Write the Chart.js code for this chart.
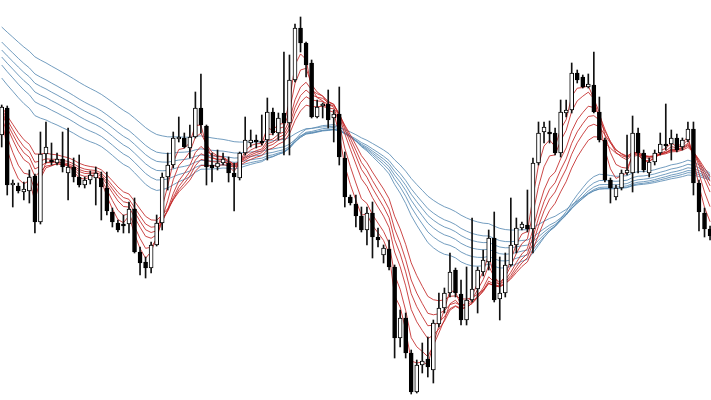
<!DOCTYPE html>
<html>
<head>
<meta charset="utf-8">
<script src="https://cdn.jsdelivr.net/npm/chart.js@4.4.1/dist/chart.umd.min.js"></script>
<style>
  html, body { margin: 0; padding: 0; background: #fff; }
  #chart { display: block; }
</style>
</head>
<body>
<canvas id="chart" width="711" height="400"></canvas>
<script>
// candles
var opens = [1.3065,1.3092,1.3015,1.3014,1.3008,1.3009,1.3024,1.2978,1.3046,1.3040,
  1.3037,1.3041,1.3027,1.3033,1.3023,1.3015,1.3020,1.3022,1.3022,1.3012,
  1.2988,1.2977,1.2976,1.2976,1.2991,1.2948,1.2938,1.2932,1.2955,1.2977,
  1.3023,1.3035,1.3061,1.3062,1.3052,1.3063,1.3092,1.3074,1.3035,1.3033,
  1.3037,1.3037,1.3027,1.3022,1.3047,1.3057,1.3060,1.3059,1.3060,1.3088,
  1.3067,1.3087,1.3077,1.3120,1.3172,1.3157,1.3137,1.3083,1.3094,1.3096,
  1.3082,1.3086,1.3042,1.3003,1.2996,1.2984,1.2970,1.2987,1.2963,1.2945,
  1.2951,1.2933,1.2862,1.2882,1.2847,1.2808,1.2835,1.2841,1.2830,1.2876,
  1.2892,1.2907,1.2930,1.2906,1.2880,1.2900,1.2911,1.2928,1.2938,1.2962,
  1.2901,1.2907,1.2935,1.2955,1.2972,1.2975,1.2971,1.3037,1.3068,1.3068,
  1.3067,1.3047,1.3087,1.3090,1.3127,1.3123,1.3113,1.3115,1.3088,1.3060,
  1.3020,1.3003,1.3012,1.3027,1.3027,1.3067,1.3047,1.3027,1.3038,1.3047,
  1.3056,1.3056,1.3062,1.3053,1.3060,1.3071,1.3017,1.2987,1.2971];
var highs = [1.3095,1.3094,1.3020,1.3017,1.3018,1.3030,1.3026,1.3068,1.3078,1.3057,
  1.3047,1.3068,1.3072,1.3042,1.3045,1.3023,1.3029,1.3033,1.3028,1.3028,
  1.2992,1.2980,1.2985,1.2998,1.3002,1.2953,1.2943,1.2958,1.2985,1.3027,
  1.3047,1.3068,1.3083,1.3067,1.3075,1.3108,1.3126,1.3075,1.3047,1.3050,
  1.3047,1.3043,1.3037,1.3048,1.3083,1.3070,1.3065,1.3085,1.3102,1.3092,
  1.3087,1.3148,1.3145,1.3176,1.3183,1.3158,1.3140,1.3100,1.3097,1.3110,
  1.3090,1.3113,1.3048,1.3005,1.3005,1.2993,1.2993,1.2998,1.2972,1.2955,
  1.2960,1.2935,1.2890,1.2887,1.2850,1.2840,1.2857,1.2863,1.2880,1.2907,
  1.2912,1.2947,1.2932,1.2920,1.2933,1.2982,1.2933,1.2950,1.2970,1.2988,
  1.2943,1.2947,1.3002,1.2982,1.2978,1.3010,1.3042,1.3078,1.3078,1.3079,
  1.3072,1.3100,1.3100,1.3137,1.3130,1.3125,1.3126,1.3148,1.3103,1.3062,
  1.3022,1.3015,1.3030,1.3065,1.3084,1.3072,1.3050,1.3042,1.3050,1.3067,
  1.3096,1.3070,1.3066,1.3062,1.3078,1.3078,1.3020,1.2992,1.2974];
var lows = [1.3053,1.3005,1.2993,1.3007,1.3000,1.2997,1.2967,1.2976,1.3037,1.3035,
  1.3035,1.3028,1.3000,1.3018,1.3013,1.3012,1.3016,1.2995,1.2980,1.2985,
  1.2973,1.2968,1.2967,1.2967,1.2947,1.2925,1.2922,1.2927,1.2954,1.2970,
  1.3010,1.3032,1.3058,1.3052,1.3042,1.3062,1.3067,1.3015,1.3018,1.3030,
  1.3035,1.3018,1.2989,1.3020,1.3045,1.3053,1.3052,1.3055,1.3040,1.3065,
  1.3060,1.3045,1.3045,1.3118,1.3148,1.3123,1.3082,1.3082,1.3082,1.3072,
  1.3058,1.3035,1.2993,1.2995,1.2973,1.2968,1.2955,1.2942,1.2953,1.2937,
  1.2930,1.2842,1.2853,1.2842,1.2806,1.2807,1.2827,1.2823,1.2817,1.2873,
  1.2887,1.2903,1.2903,1.2875,1.2875,1.2898,1.2887,1.2924,1.2930,1.2898,
  1.2880,1.2903,1.2934,1.2947,1.2970,1.2968,1.2947,1.3035,1.3057,1.3057,
  1.3045,1.3043,1.3083,1.3087,1.3117,1.3112,1.3112,1.3087,1.3058,1.3018,
  1.2997,1.3000,1.3010,1.3025,1.3008,1.3027,1.3028,1.3023,1.3035,1.3045,
  1.3050,1.3040,1.3048,1.3050,1.3058,1.3005,1.2969,1.2963,1.2960];
var closes = [1.3093,1.3015,1.3017,1.3009,1.3011,1.3023,1.2978,1.3046,1.3053,1.3038,
  1.3041,1.3033,1.3033,1.3023,1.3015,1.3020,1.3025,1.3027,1.3013,1.2989,
  1.2978,1.2970,1.2974,1.2991,1.2948,1.2937,1.2932,1.2955,1.2977,1.3023,
  1.3035,1.3062,1.3063,1.3053,1.3063,1.3092,1.3075,1.3033,1.3032,1.3037,
  1.3041,1.3027,1.3023,1.3047,1.3060,1.3060,1.3058,1.3057,1.3088,1.3067,
  1.3082,1.3077,1.3120,1.3172,1.3157,1.3135,1.3083,1.3093,1.3096,1.3080,
  1.3086,1.3043,1.3003,1.2997,1.2984,1.2970,1.2987,1.2963,1.2960,1.2952,
  1.2933,1.2862,1.2882,1.2847,1.2808,1.2835,1.2839,1.2833,1.2877,1.2892,
  1.2907,1.2928,1.2907,1.2880,1.2900,1.2911,1.2930,1.2940,1.2962,1.2900,
  1.2907,1.2935,1.2955,1.2972,1.2976,1.2971,1.3037,1.3067,1.3073,1.3066,
  1.3047,1.3088,1.3090,1.3127,1.3120,1.3113,1.3116,1.3088,1.3060,1.3020,
  1.3012,1.3012,1.3027,1.3030,1.3067,1.3047,1.3030,1.3038,1.3047,1.3056,
  1.3054,1.3062,1.3050,1.3060,1.3071,1.3017,1.2988,1.2971,1.2964];

// guppy averages: periods and their value on the first visible bar
var shortPeriods = [3, 5, 8, 10, 12, 15];
var shortStart = [1.3085, 1.3087, 1.3089, 1.3090, 1.3092, 1.3094];
var longPeriods = [30, 35, 40, 45, 50, 60];
var longStart = [1.3122, 1.3135, 1.3143, 1.3150, 1.3158, 1.3173];

function ema(period, start) {
  var k = 2 / (period + 1), v = start, out = [{x: 0, y: start}];
  for (var i = 1; i < closes.length; i++) {
    v = v + k * (closes[i] - v);
    out.push({x: i, y: v});
  }
  return out;
}

var datasets = [];
shortPeriods.forEach(function (p, j) {
  datasets.push({type: 'line', data: ema(p, shortStart[j]), borderColor: 'rgba(195,40,40,0.85)',
    borderWidth: 1, pointRadius: 0, tension: 0, order: 3});
});
longPeriods.forEach(function (p, j) {
  datasets.push({type: 'line', data: ema(p, longStart[j]), borderColor: 'rgba(90,140,180,0.85)',
    borderWidth: 1, pointRadius: 0, tension: 0, order: 4});
});

// wicks, then bodies on top
datasets.push({
  type: 'bar',
  data: opens.map(function (o, i) { return {x: i, y: [lows[i], highs[i]]}; }),
  backgroundColor: '#111', barThickness: 1, grouped: false, order: 2
});
datasets.push({
  type: 'bar',
  data: opens.map(function (o, i) { return {x: i, y: [o, closes[i]]}; }),
  backgroundColor: opens.map(function (o, i) { return closes[i] >= o ? '#fff' : '#000'; }),
  borderColor: '#000', borderWidth: 1, borderSkipped: false,
  barThickness: 4, minBarLength: 1, grouped: false, order: 1
});

var step = 5.534;
new Chart(document.getElementById('chart'), {
  data: {datasets: datasets},
  options: {
    responsive: false,
    animation: false,
    layout: {padding: 0},
    plugins: {legend: {display: false}, tooltip: {enabled: false}},
    scales: {
      x: {type: 'linear', display: false, offset: false, bounds: 'ticks',
          min: -1.7 / step, max: -1.7 / step + 711 / step},
      y: {display: false, min: 1.2800, max: 1.3200}
    }
  }
});
</script>
</body>
</html>
